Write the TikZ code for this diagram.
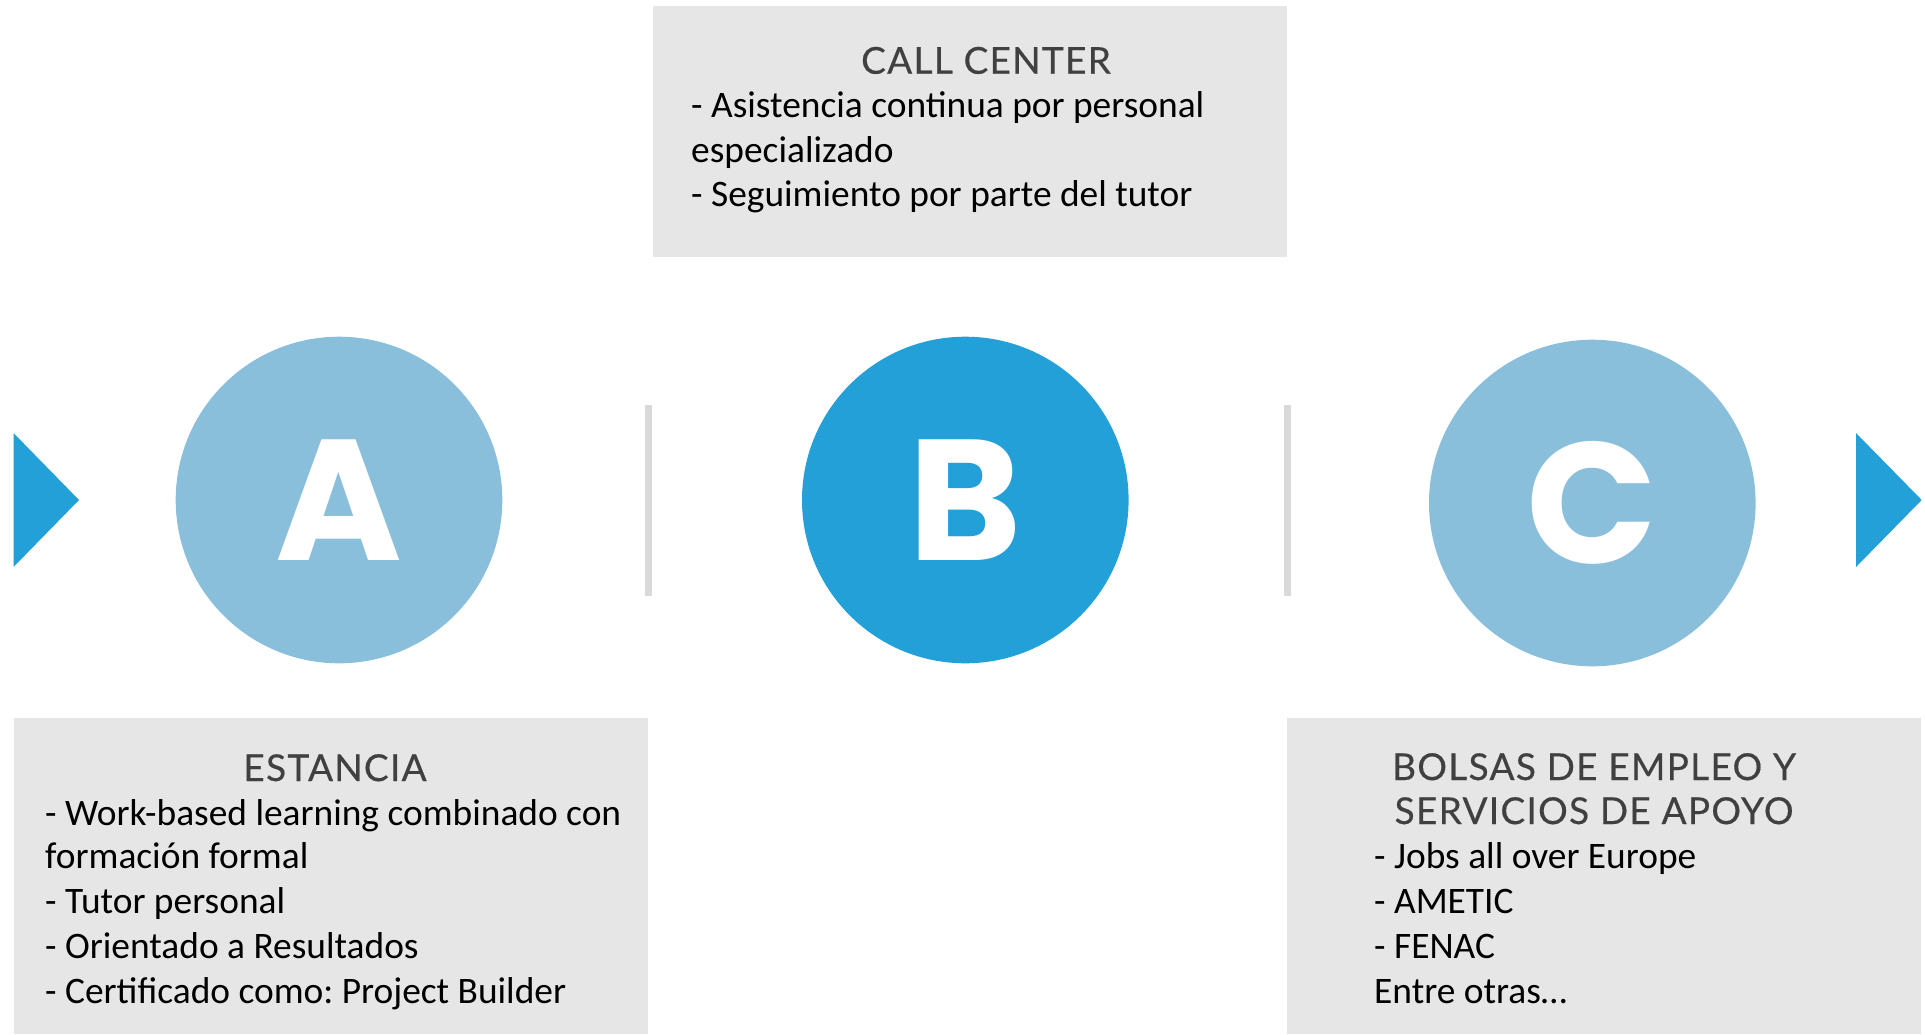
\documentclass[tikz,border=0pt]{standalone}
\usepackage{fontspec}
\setmainfont{Carlito}
\newfontfamily\titlefont{Lato}[LetterSpace=3.5,FakeBold=0.4]
\newfontfamily\letterfont{Poppins}
\definecolor{boxgray}{HTML}{E6E6E6}
\definecolor{lightblue}{HTML}{8ABFDB}
\definecolor{mainblue}{HTML}{23A0D8}
\definecolor{sepgray}{HTML}{D9D9D9}
\definecolor{titlegray}{HTML}{404040}
\frenchspacing
\tikzset{
  infobox/.style={fill=boxgray, draw=none, rectangle, anchor=north west, inner sep=0pt},
  boxtitle/.style={font=\titlefont\fontsize{37}{44.8}\selectfont, text=titlegray, anchor=base, inner sep=0pt},
  bodyline/.style={font=\fontsize{37.4}{44.8}\selectfont, text=black, anchor=base west, inner sep=0pt},
  stepcircle/.style={circle, minimum size=326.6pt, inner sep=0pt, text=white,
     font=\letterfont\bfseries\fontsize{172}{172}\selectfont},
  sepline/.style={draw=sepgray, line width=7pt},
  pointer/.style={fill=mainblue, draw=none}
}
\begin{document}
\begin{tikzpicture}[x=1pt,y=-1pt]
\useasboundingbox (0,0) rectangle (1925,1034);
% boxes
\node[infobox, minimum width=634pt, minimum height=251pt] (callbox) at (653,6) {};
\node[infobox, minimum width=634pt, minimum height=316pt] (estbox) at (13.5,718) {};
\node[infobox, minimum width=634pt, minimum height=316pt] (bolbox) at (1287,718) {};
% call center text
\node[boxtitle] (calltitle) at (986,73.7) {CALL CENTER};
\node[bodyline] (call1) at (691,117.9) {- Asistencia continua por personal};
\node[bodyline] (call2) at (691,162) {especializado};
\node[bodyline] (call3) at (691,206) {- Seguimiento por parte del tutor};
% estancia text
\node[boxtitle] (esttitle) at (335,781) {ESTANCIA};
\node[bodyline] (est1) at (45,825) {- Work-based learning combinado con};
\node[bodyline] (est2) at (45,868.5) {formación formal};
\node[bodyline] (est3) at (45,913) {- Tutor personal};
\node[bodyline] (est4) at (45,958) {- Orientado a Resultados};
\node[bodyline] (est5) at (45,1003) {- Certificado como: Project Builder};
% bolsas text
\node[boxtitle] (boltitle1) at (1594,780) {BOLSAS DE EMPLEO Y};
\node[boxtitle] (boltitle2) at (1594,824) {SERVICIOS DE APOYO};
\node[bodyline] (bol1) at (1374,868.5) {- Jobs all over Europe};
\node[bodyline] (bol2) at (1374,913) {- AMETIC};
\node[bodyline] (bol3) at (1374,958) {- FENAC};
\node[bodyline] (bol4) at (1374,1003) {Entre otras…};
% circles
\node[stepcircle, fill=lightblue] (ca) at (339,500) {A};
\node[stepcircle, fill=mainblue] (cb) at (965.3,500) {B};
\node[stepcircle, fill=lightblue] (cc) at (1592.3,503) {C};
% separators
\coordinate (s1t) at (648,405);
\coordinate (s1b) at (648,596);
\coordinate (s2t) at (1287,405);
\coordinate (s2b) at (1287,596);
\draw[sepline] (s1t) -- (s1b);
\draw[sepline] (s2t) -- (s2b);
% pointers
\fill[pointer] (13.5,433) -- (79,500) -- (13.5,567) -- cycle;
\fill[pointer] (1856,433) -- (1921.7,500) -- (1856,567) -- cycle;
\end{tikzpicture}
\end{document}
